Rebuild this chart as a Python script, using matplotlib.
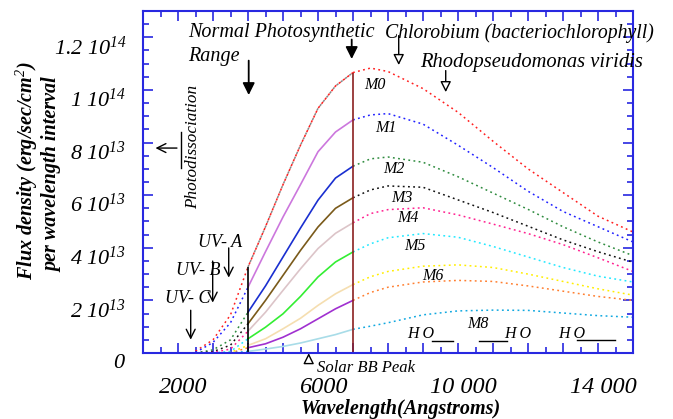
import matplotlib
matplotlib.use("Agg")
import matplotlib.pyplot as plt
import matplotlib.transforms as mtransforms
from matplotlib.ticker import MultipleLocator, FixedLocator, FuncFormatter
import numpy as np

plt.rcParams['font.family'] = ['Liberation Serif', 'DejaVu Serif']
plt.rcParams['font.style'] = 'italic'
plt.rcParams['mathtext.fontset'] = 'custom'
plt.rcParams['mathtext.rm'] = 'Liberation Serif:italic'
plt.rcParams['mathtext.it'] = 'Liberation Serif:italic'
plt.rcParams['mathtext.bf'] = 'Liberation Serif:bold:italic'

# Wavelength grid (Angstroms)
wl = [2500, 3000, 3500, 4000, 4500, 5000, 5500, 6000, 6500, 7000, 7500,
      8000, 9000, 10000, 11000, 12000, 13000, 14000, 15000]

# Flux density, units of 1e13
m0 = [0.07, 0.5, 1.45, 3.27, 4.8, 6.4, 7.9, 9.3, 10.15, 10.66, 10.83,
      10.7, 10.05, 9.15, 8.05, 7.0, 6.1, 5.2, 4.6]
m1 = [0.02, 0.4, 1.15, 2.5, 3.85, 5.17, 6.4, 7.65, 8.4, 8.86, 9.05,
      9.1, 8.7, 7.9, 7.05, 6.15, 5.38, 4.8, 4.22]
m2 = [0.0, 0.12, 0.5, 1.55, 2.55, 3.65, 4.75, 5.81, 6.65, 7.1, 7.38,
      7.45, 7.25, 6.7, 6.08, 5.46, 4.8, 4.22, 3.7]
m3 = [0.0, 0.05, 0.3, 1.11, 2.0, 2.95, 3.9, 4.79, 5.5, 5.9, 6.2,
      6.35, 6.3, 5.82, 5.34, 4.82, 4.3, 3.85, 3.45]
m4 = [0.0, 0.02, 0.15, 0.83, 1.55, 2.38, 3.2, 3.97, 4.55, 4.95, 5.3,
      5.45, 5.52, 5.25, 4.9, 4.54, 4.12, 3.62, 3.1]
m5 = [0.0, 0.0, 0.06, 0.54, 0.98, 1.49, 2.15, 2.89, 3.46, 3.84, 4.15,
      4.38, 4.54, 4.4, 4.05, 3.65, 3.25, 2.92, 2.7]
m6 = [0.0, 0.0, 0.02, 0.29, 0.54, 0.92, 1.32, 1.81, 2.25, 2.6, 2.9,
      3.1, 3.3, 3.35, 3.25, 3.0, 2.72, 2.44, 2.2]
m7 = [0.0, 0.0, 0.0, 0.2, 0.35, 0.6, 0.92, 1.3, 1.68, 2.0, 2.3,
      2.5, 2.7, 2.76, 2.72, 2.55, 2.35, 2.15, 2.0]
m8 = [0.0, 0.0, 0.0, 0.06, 0.15, 0.25, 0.38, 0.54, 0.7, 0.9, 1.02,
      1.15, 1.45, 1.6, 1.63, 1.62, 1.52, 1.42, 1.36]

curves = [m0, m1, m2, m3, m4, m5, m6, m7, m8]
names = ['M0', 'M1', 'M2', 'M3', 'M4', 'M5', 'M6', None, 'M8']
# dotted colour (UV and IR parts), solid colour (4000-7000 A)
out_colors = ['#ff2020', '#2020ff', '#2e8b3e', '#111111', '#ff2090',
              '#20e8ff', '#ffee00', '#ff7f30', '#10a8e0']
mid_colors = [None, '#cc77dd', '#1a2fd0', '#7a5a1a', '#dcc4c8',
              '#33ee33', '#f5deb0', '#a030d0', '#a8dce8']

ytick_vals = [0, 2, 4, 6, 8, 10, 12]
ytick_text = ['$0$', r'$2\ 10^{13}$', r'$4\ 10^{13}$', r'$6\ 10^{13}$',
              r'$8\ 10^{13}$', r'$1\ 10^{14}$', r'$1.2\ 10^{14}$']
xtick_text = {2000: '2000', 6000: '6000', 10000: '10 000', 14000: '14 000'}

fig = plt.figure(figsize=(6.73, 4.19), dpi=100)
ax = fig.add_axes([143 / 673, 1 - 353 / 419, 490 / 673, 342 / 419])

dots = (0, (1.2, 2.2))
w = np.array(wl)
for i, vals in enumerate(curves):
    v = np.array(vals)
    # skip the leading zeros of the UV tail
    nz = np.nonzero(v)[0][0]
    start = max(nz - 1, 0)
    lo = (np.arange(len(w)) >= start) & (w <= 4000)
    mid = (w >= 4000) & (w <= 7000)
    hi = w >= 7000
    ax.plot(w[lo], v[lo], color=out_colors[i], ls=dots, lw=1.1)
    ax.plot(w[hi], v[hi], color=out_colors[i], ls=dots, lw=1.1)
    if mid_colors[i] is None:
        ax.plot(w[mid], v[mid], color='#888888', ls=(0, (1.5, 2.0)), lw=1.1)
        ax.plot(w[mid], v[mid], color=out_colors[i], ls=(1.7, (1.5, 2.0)), lw=1.1)
    else:
        ax.plot(w[mid], v[mid], color=mid_colors[i], ls='-', lw=1.2)

# band edges
ax.vlines(4000, 0, np.interp(4000, wl, m0), color='black', lw=1.2)
ax.vlines(7000, 0, np.interp(7000, wl, m0), color='#8b2020', lw=1.2)

ax.set_xlim(1000, 15000)
ax.set_ylim(0, 13)

for s in ax.spines.values():
    s.set_color('#2828e0')
    s.set_linewidth(1.5)
ax.xaxis.set_major_locator(MultipleLocator(1000))
ax.xaxis.set_minor_locator(MultipleLocator(500))
ax.xaxis.set_major_formatter(FuncFormatter(lambda x, p: xtick_text.get(int(round(x)), '')))
ax.yaxis.set_major_locator(FixedLocator(ytick_vals))
ax.yaxis.set_minor_locator(MultipleLocator(0.5))
ax.set_yticklabels(ytick_text)
ax.tick_params(which='both', direction='in', top=True, right=True, color='#2828e0', width=1.2)
ax.tick_params(which='major', length=7)
ax.tick_params(which='minor', length=4)
ax.tick_params(axis='x', which='major', pad=17, labelsize=17.5)
ax.tick_params(axis='y', which='major', pad=12, labelsize=16)
off = mtransforms.ScaledTranslation(0, -0.08, fig.dpi_scale_trans)
for lab in ax.get_yticklabels():
    lab.set_transform(lab.get_transform() + off)
xoff = mtransforms.ScaledTranslation(0.05, 0, fig.dpi_scale_trans)
for lab in ax.get_xticklabels():
    lab.set_transform(lab.get_transform() + xoff)

bold = dict(fontsize=14.5, fontweight='bold', fontstyle='italic')
fig.text(401 / 673, 1 - 409 / 419, 'Wavelength(Angstroms)', ha='center', va='center', **bold)
fig.text(27 / 673, 1 - 171 / 419, 'Flux density (erg/sec/cm$^{2}$)', rotation=90,
         ha='center', va='center', **bold)
fig.text(52 / 673, 1 - 175 / 419, 'per wavelength interval', rotation=90,
         ha='center', va='center', **bold)

it = dict(fontstyle='italic', clip_on=False)

# curve labels
label_pos = [(7620, 10.19), (7934, 8.55), (8163, 6.99), (8391, 5.89), (8563, 5.12),
             (8763, 4.06), (9277, 2.91), None, (10563, 1.09)]
for nm, pos in zip(names, label_pos):
    if nm:
        ax.text(pos[0], pos[1], nm, ha='center', va='center', fontsize=11.5, **it)

# top annotations
ax.text(2283, 12.17, 'Normal Photosynthetic', ha='left', va='center', fontsize=14.5, **it)
ax.text(2283, 11.26, 'Range', ha='left', va='center', fontsize=14.5, **it)
ax.text(7906, 12.17, 'Chlorobium (bacteriochlorophyll)', ha='left', va='center', fontsize=14.2, **it)
ax.text(8906, 11.03, 'Rhodopseudomonas viridis', ha='left', va='center', fontsize=14.8, **it)

filled = dict(arrowstyle='-|>', color='black', lw=1.3, mutation_scale=18)
hollow = dict(arrowstyle='-|>', fc='white', ec='black', lw=1.0, mutation_scale=16)
openv = dict(arrowstyle='->', color='black', lw=1.0, mutation_scale=16)
ax.annotate('', xy=(4020, 9.7), xytext=(4020, 11.22), arrowprops=filled, annotation_clip=False)
ax.annotate('', xy=(6963, 11.07), xytext=(6963, 12.02), arrowprops=filled, annotation_clip=False)
ax.annotate('', xy=(8306, 10.84), xytext=(8306, 12.17), arrowprops=hollow, annotation_clip=False)
ax.annotate('', xy=(9649, 9.81), xytext=(9649, 10.84), arrowprops=hollow, annotation_clip=False)

# photodissociation
ax.text(2420, 7.83, 'Photodissociation', rotation=90, ha='center', va='center', fontsize=12.3, **it)
ax.annotate('', xy=(1277, 7.79), xytext=(2049, 7.79), arrowprops=openv, annotation_clip=False)
ax.plot([2077, 2077], [7.03, 8.4], color='black', lw=1.0)

# UV bands
ax.text(2563, 4.21, 'UV- A', ha='left', va='center', fontsize=13, **it)
ax.annotate('', xy=(3449, 2.76), xytext=(3449, 4.10), arrowprops=openv)
ax.text(1934, 3.14, 'UV- B', ha='left', va='center', fontsize=13, **it)
ax.annotate('', xy=(2991, 1.81), xytext=(2991, 3.6), arrowprops=openv)
ax.text(1620, 2.08, 'UV- C', ha='left', va='center', fontsize=13, **it)
ax.annotate('', xy=(2363, 0.40), xytext=(2363, 1.73), arrowprops=openv)

# water bands
for xc in [8934, 11706, 13249]:
    ax.text(xc, 0.74, 'H O', ha='center', va='center', fontsize=11.5, **it)
for x0, x1, yv in [(9249, 9849, 0.44), (10591, 11391, 0.44), (13391, 14477, 0.51)]:
    ax.plot([x0, x1], [yv, yv], color='black', lw=1.0)

# solar peak
ax.annotate('', xy=(5734, 0.1), xytext=(5734, -0.5), arrowprops=hollow, annotation_clip=False)
ax.text(5963, -0.58, 'Solar BB Peak', ha='left', va='center', fontsize=12, **it)

fig.savefig('out.png', dpi=100)
